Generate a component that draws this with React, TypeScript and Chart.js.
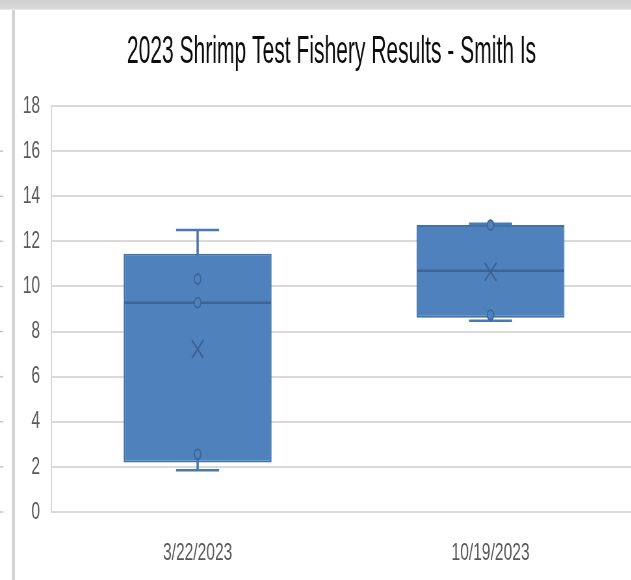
import React, { useEffect, useRef } from 'react';
import { Chart, registerables } from 'chart.js';

Chart.register(...registerables);

// ---- Data ----
const chartTitle = '2023 Shrimp Test Fishery Results - Smith Is';
const categories = ['3/22/2023', '10/19/2023'];
const whiskerMin = [1.85, 8.48];
const quartile1 = [2.2, 8.61];
const medians = [9.28, 10.7];
const quartile3 = [11.45, 12.72];
const whiskerMax = [12.5, 12.78];
const means = [7.22, 10.65];
const innerPoints = [
  [10.33, 9.28, 2.56],
  [12.72, 8.73],
];
const yMin = 0;
const yMax = 18;
const yStep = 2;

// ---- Presentation ----
const SQUEEZE = 0.65; // the reference is horizontally compressed
const CANVAS_W = 1020;
const CANVAS_H = 580;
const BOX_FRACTION = 0.505;
const CAP_FRACTION = 0.147;
const TITLE_NARROW = 0.83;
const TICK_SIZE = 24;

const BOX_FILL = '#4f81bd';
const BOX_EDGE = '#4172aa';
const DARK_BLUE = '#3b6596';
const WHISKER = '#4a78b0';
const GRID = '#d9d9d9';
const TICK_COLOR = '#595959';
const TITLE_FONT = "'Liberation Sans', Arial, sans-serif";
const TICK_FONT = "'Liberation Sans', Arial, sans-serif";

const categoryWidth = (ctx: any) => {
  const a = ctx.chart.chartArea;
  return a ? (a.right - a.left) / categories.length : 0;
};

const edgeMarks = {
  id: 'edgeMarks',
  beforeDraw(chart: any) {
    const y = chart.scales.y;
    const ctx = chart.ctx;
    ctx.save();
    ctx.strokeStyle = '#c4c4c4';
    ctx.lineWidth = 1.5;
    y.ticks.forEach((t: any, i: number) => {
      if (t.value >= yMax) return;
      const py = y.getPixelForTick(i);
      ctx.beginPath();
      ctx.moveTo(0, py);
      ctx.lineTo(5, py);
      ctx.stroke();
    });
    ctx.restore();
  },
};

// Narrow title (condensed horizontally like the reference)
const narrowTitle = {
  id: 'narrowTitle',
  afterDraw(chart: any) {
    const ctx = chart.ctx;
    ctx.save();
    ctx.translate(chart.width / 2, 63);
    ctx.scale(TITLE_NARROW, 1);
    ctx.font = `normal 39px ${TITLE_FONT}`;
    ctx.fillStyle = '#0d0d0d';
    ctx.textAlign = 'center';
    ctx.textBaseline = 'alphabetic';
    ctx.fillText(chartTitle, 0, 0);
    ctx.restore();
  },
};

export default function App() {
  const canvasRef = useRef<HTMLCanvasElement | null>(null);

  useEffect(() => {
    if (!canvasRef.current) return;
    const pointData = categories.flatMap((c, i) => innerPoints[i].map((v) => ({ x: c, y: v })));

    const chart = new Chart(canvasRef.current, {
      type: 'bar',
      data: {
        labels: categories,
        datasets: [
          {
            type: 'bar',
            label: 'whiskers',
            data: categories.map((_, i) => [whiskerMin[i], whiskerMax[i]]),
            backgroundColor: WHISKER,
            borderWidth: 0,
            barThickness: 3,
            grouped: false,
            order: 5,
          } as any,
          {
            type: 'bar',
            label: 'box',
            data: categories.map((_, i) => [quartile1[i], quartile3[i]]),
            backgroundColor: BOX_FILL,
            borderColor: BOX_EDGE,
            borderWidth: 2,
            borderSkipped: false,
            barPercentage: BOX_FRACTION,
            categoryPercentage: 1,
            grouped: false,
            order: 4,
          } as any,
          {
            type: 'line',
            label: 'max cap',
            data: whiskerMax,
            showLine: false,
            pointStyle: 'line',
            pointRadius: (ctx: any) => (categoryWidth(ctx) * CAP_FRACTION) / 2,
            pointBorderWidth: 2.5,
            pointBorderColor: WHISKER,
            borderColor: WHISKER,
            order: 3,
          } as any,
          {
            type: 'line',
            label: 'min cap',
            data: whiskerMin,
            showLine: false,
            pointStyle: 'line',
            pointRadius: (ctx: any) => (categoryWidth(ctx) * CAP_FRACTION) / 2,
            pointBorderWidth: 2.5,
            pointBorderColor: WHISKER,
            borderColor: WHISKER,
            order: 3,
          } as any,
          {
            type: 'line',
            label: 'median',
            data: medians,
            showLine: false,
            pointStyle: 'line',
            pointRadius: (ctx: any) => (categoryWidth(ctx) * BOX_FRACTION) / 2 - 1,
            pointBorderWidth: 2.5,
            pointBorderColor: DARK_BLUE,
            borderColor: DARK_BLUE,
            order: 2,
          } as any,
          {
            type: 'line',
            label: 'points',
            data: pointData,
            showLine: false,
            pointStyle: 'circle',
            pointRadius: 5,
            pointBorderWidth: 1.8,
            pointBackgroundColor: BOX_FILL,
            pointBorderColor: DARK_BLUE,
            borderColor: DARK_BLUE,
            order: 1,
          } as any,
          {
            type: 'line',
            label: 'mean',
            data: means,
            showLine: false,
            pointStyle: 'crossRot',
            pointRadius: 12.5,
            pointBorderWidth: 2,
            pointBorderColor: '#3a6090',
            borderColor: '#3a6090',
            order: 0,
          } as any,
        ],
      },
      options: {
        responsive: false,
        animation: false,
        events: [],
        layout: { padding: { left: 18, right: 40, top: 106, bottom: 12.2 } },
        plugins: {
          legend: { display: false },
          tooltip: { enabled: false },
          title: { display: false },
        },
        scales: {
          x: {
            type: 'category',
            offset: true,
            grid: { display: false, drawTicks: false },
            border: { display: false },
            ticks: {
              color: TICK_COLOR,
              padding: 27,
              font: { family: TICK_FONT, size: TICK_SIZE },
            },
            afterFit: (scale: any) => {
              scale.height = 27 + TICK_SIZE * 1.2;
            },
          },
          y: {
            type: 'linear',
            min: yMin,
            max: yMax,
            grid: { color: GRID, lineWidth: 2, drawTicks: false },
            border: { display: true, color: GRID, width: 2 },
            ticks: {
              stepSize: yStep,
              color: TICK_COLOR,
              padding: 17,
              font: { family: TICK_FONT, size: TICK_SIZE },
            },
          },
        },
      },
      plugins: [edgeMarks, narrowTitle],
    } as any);

    return () => chart.destroy();
  }, []);

  return (
    <div
      style={{
        position: 'fixed',
        left: 0,
        top: 0,
        width: 631,
        height: 580,
        overflow: 'hidden',
        background: '#ffffff',
      }}
    >
      <div
        style={{
          position: 'absolute',
          left: 0,
          top: 0,
          width: CANVAS_W,
          height: CANVAS_H,
          transform: `scaleX(${SQUEEZE})`,
          transformOrigin: '0 0',
        }}
      >
        <canvas
          ref={canvasRef}
          width={CANVAS_W}
          height={CANVAS_H}
          style={{ width: CANVAS_W, height: CANVAS_H, display: 'block' }}
        />
      </div>
      <div
        style={{
          position: 'absolute',
          left: 0,
          top: 0,
          width: 631,
          height: 9,
          background: 'linear-gradient(#d0d0d0, #dadada)',
          borderBottom: '1px solid #e8e8e8',
        }}
      />
      <div
        style={{
          position: 'absolute',
          left: 12,
          top: 10,
          width: 3,
          height: 570,
          background: '#d4d4d4',
        }}
      />
    </div>
  );
}
